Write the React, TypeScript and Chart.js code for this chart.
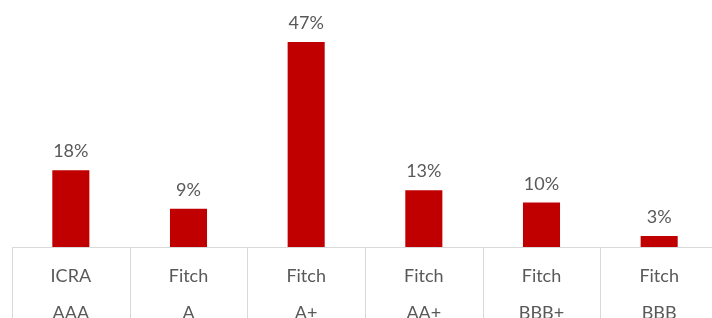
import React, { useEffect, useRef } from "react";
import { Chart, registerables } from "chart.js";

Chart.register(...registerables);

const categories: string[][] = [
  ["ICRA", "AAA"],
  ["Fitch", "A"],
  ["Fitch", "A+"],
  ["Fitch", "AA+"],
  ["Fitch", "BBB+"],
  ["Fitch", "BBB"],
];
const shareValues: number[] = [17.6, 8.8, 47, 13, 10.2, 2.5];
const valueLabels: string[] = ["18%", "9%", "47%", "13%", "10%", "3%"];

const TEXT = "#595959";
const GRID = "#D9D9D9";
const FONT = "Lato, 'Open Sans', sans-serif";

const labelPlugin = {
  id: "valueLabels",
  afterDatasetsDraw(chart: any) {
    const ctx = chart.ctx;
    const meta = chart.getDatasetMeta(0);
    ctx.save();
    ctx.fillStyle = TEXT;
    ctx.font = `18px ${FONT}`;
    ctx.textAlign = "center";
    ctx.textBaseline = "alphabetic";
    meta.data.forEach((bar: any, i: number) => {
      ctx.fillText(valueLabels[i], bar.x, bar.y - 13);
    });
    ctx.restore();
  },
};

const dividerPlugin = {
  id: "dividers",
  afterDraw(chart: any) {
    const ctx = chart.ctx;
    const xs = chart.scales.x;
    const n = categories.length;
    const w = (xs.right - xs.left) / n;
    ctx.save();
    ctx.strokeStyle = GRID;
    ctx.lineWidth = 1;
    for (let i = 0; i <= n; i++) {
      const x = Math.round(xs.left + i * w) + 0.5;
      ctx.beginPath();
      ctx.moveTo(x, chart.chartArea.bottom);
      ctx.lineTo(x, chart.height);
      ctx.stroke();
    }
    ctx.restore();
  },
};

export default function App() {
  const ref = useRef<HTMLCanvasElement | null>(null);
  useEffect(() => {
    if (!ref.current) return;
    const chart = new Chart(ref.current, {
      type: "bar",
      data: {
        labels: categories,
        datasets: [
          {
            data: shareValues,
            backgroundColor: "#C00000",
            borderWidth: 0,
            categoryPercentage: 1,
            barPercentage: 0.315,
          },
        ],
      },
      options: {
        animation: false,
        responsive: false,
        maintainAspectRatio: false,
        layout: { padding: { left: 12, right: 12, top: 29, bottom: 0 } },
        plugins: { legend: { display: false }, tooltip: { enabled: false } },
        scales: {
          y: { display: false, min: 0, max: 50 },
          x: {
            afterFit: (s: any) => {
              s.height = 93;
            },
            grid: { display: false, drawOnChartArea: false },
            border: { display: true, color: GRID, width: 1 },
            ticks: {
              color: TEXT,
              padding: 2,
              font: { family: FONT, size: 18, lineHeight: 2.09 },
              maxRotation: 0,
              autoSkip: false,
            },
          },
        },
      },
      plugins: [labelPlugin, dividerPlugin],
    });
    return () => chart.destroy();
  }, []);
  return (
    <div
      style={{
        position: "fixed",
        left: 0,
        top: 0,
        width: 712,
        height: 318,
        overflow: "hidden",
        background: "#fff",
      }}
    >
      <canvas ref={ref} width={730} height={340} style={{ width: 730, height: 340 }} />
    </div>
  );
}
